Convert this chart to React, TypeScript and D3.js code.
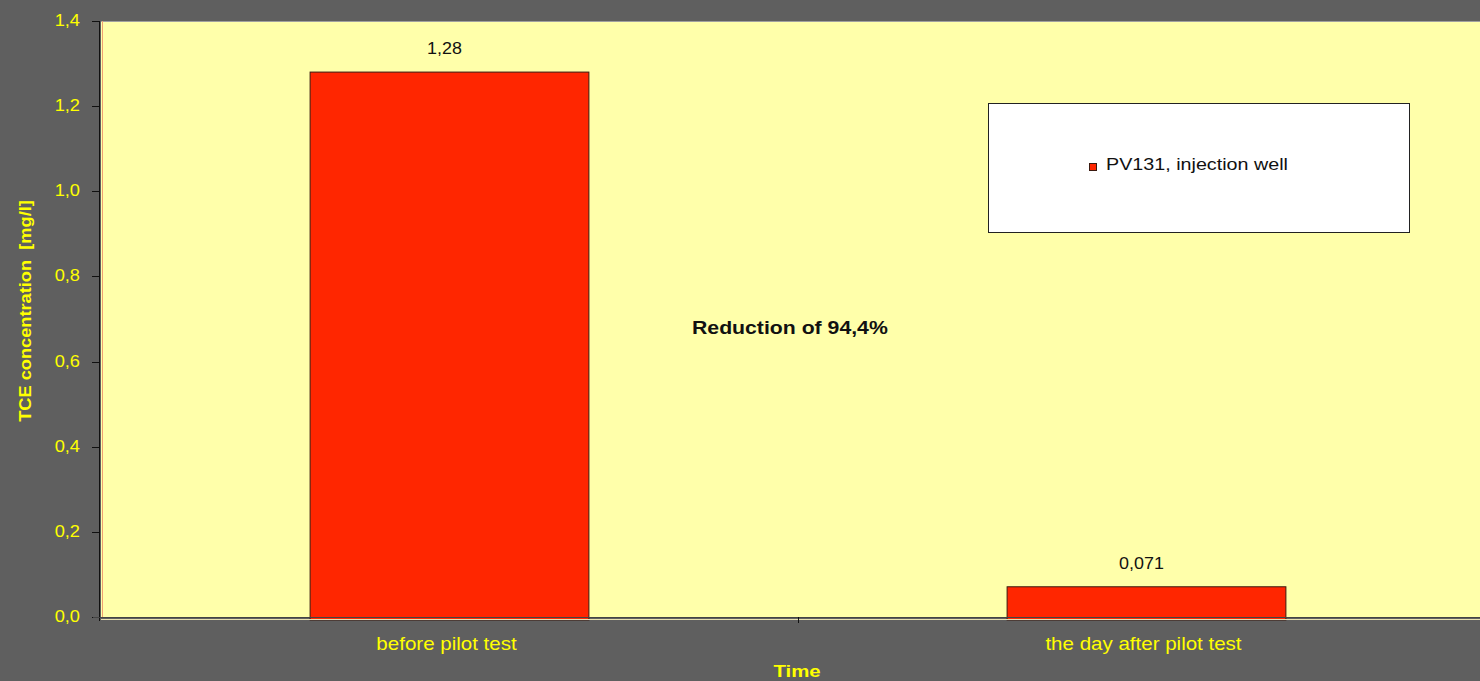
import React from 'react';
import * as d3 from 'd3';

const categories = ['before pilot test', 'the day after pilot test'];
const values = [1.28, 0.071];
const valueLabels = ['1,28', '0,071'];
const yTicks = [0, 0.2, 0.4, 0.6, 0.8, 1.0, 1.2, 1.4];
const seriesName = 'PV131, injection well';
const note = 'Reduction of 94,4%';

const W = 1480;
const H = 681;
const FONT = '"Liberation Sans", Arial, sans-serif';
const YELLOW = '#ffff00';

// the original text is drawn a bit wider than Arial, so stretch it horizontally
function Txt(props: {
  x: number; y: number; sx?: number; rotate?: number; anchor?: string; fill?: string;
  size: number; bold?: boolean; children: React.ReactNode;
}) {
  const { x, y, sx = 1.14, rotate = 0, anchor = 'start', fill = '#111', size, bold, children } = props;
  return (
    <text
      transform={`translate(${x},${y}) rotate(${rotate}) scale(${sx},1)`}
      textAnchor={anchor}
      fill={fill}
      fontFamily={FONT}
      fontSize={size}
      fontWeight={bold ? 'bold' : 'normal'}
      style={{ whiteSpace: 'pre' }}
    >
      {children}
    </text>
  );
}

export default function App() {
  // plot area runs past the right edge, like the original
  const left = 101;
  const top = 21;
  const bottom = 617;
  const plotRight = 1495;

  const x = d3.scaleBand<string>().domain(categories).range([left, plotRight]).paddingInner(0.6).paddingOuter(0.3);
  const xc = d3.scaleBand<string>().domain(categories).range([left, plotRight]);
  const y = d3.scaleLinear().domain([0, 1.4]).range([bottom, top]);
  const fmt = (v: number) => d3.format('.1f')(v).replace('.', ',');

  return (
    <svg width={W} height={H} style={{ position: 'absolute', left: 0, top: 0, display: 'block' }}>
      <rect x={0} y={0} width={W} height={H} fill="#5f5f5f" />
      {/* plot area */}
      <rect x={left} y={top} width={plotRight - left} height={bottom - top} fill="#ffffaa" />
      <line x1={left} x2={W} y1={top + 0.5} y2={top + 0.5} stroke="#a0a0a0" />
      <line x1={left + 1.5} x2={left + 1.5} y1={top} y2={bottom} stroke="#f0a070" />

      {/* y axis */}
      <line x1={99.5} x2={99.5} y1={top} y2={bottom + 4} stroke="#111" />
      {yTicks.map((t) => (
        <g key={t}>
          <line x1={92} x2={100} y1={Math.round(y(t)) + 0.5} y2={Math.round(y(t)) + 0.5} stroke="#111" />
          <Txt x={80} y={y(t) + 5} anchor="end" fill={YELLOW} size={16}>
            {fmt(t)}
          </Txt>
        </g>
      ))}
      <Txt x={31} y={(top + bottom) / 2 - 8} rotate={-90} anchor="middle" fill={YELLOW} size={16} bold>
        {'TCE concentration  [mg/l]'}
      </Txt>

      {/* bars */}
      {categories.map((c, i) => (
        <g key={c}>
          <rect
            x={x(c)}
            y={y(values[i])}
            width={x.bandwidth()}
            height={bottom + 3 - y(values[i])}
            fill="#ff2600"
            stroke="#3a1a10"
            strokeWidth={1}
          />
          <Txt x={x(c)! + x.bandwidth() / 2 - 5} y={y(values[i]) - 18} anchor="middle" size={16} sx={1.12}>
            {valueLabels[i]}
          </Txt>
        </g>
      ))}

      {/* x axis */}
      <line x1={left - 8} x2={W} y1={bottom + 0.5} y2={bottom + 0.5} stroke="#444" />
      <line x1={left} x2={W} y1={bottom + 2.5} y2={bottom + 2.5} stroke="#e8e0b0" />
      <line x1={xc(categories[1])! + 0.5} x2={xc(categories[1])! + 0.5} y1={bottom} y2={bottom + 6} stroke="#111" />
      {categories.map((c) => (
        <Txt key={c} x={xc(c)! + xc.bandwidth() / 2 - 3} y={650} anchor="middle" fill={YELLOW} size={18}>
          {c}
        </Txt>
      ))}
      <Txt x={797} y={677} anchor="middle" fill={YELLOW} size={17} bold sx={1.2}>
        Time
      </Txt>

      {/* annotation */}
      <Txt x={692} y={334} size={18} bold sx={1.18}>
        {note}
      </Txt>

      {/* legend */}
      <rect x={988.5} y={103.5} width={421} height={129} fill="#fff" stroke="#222" />
      <rect x={1089.5} y={163.5} width={7} height={7} fill="#ff2600" stroke="#3a1a10" />
      <Txt x={1106} y={170} size={17} sx={1.16}>
        {seriesName}
      </Txt>
    </svg>
  );
}
